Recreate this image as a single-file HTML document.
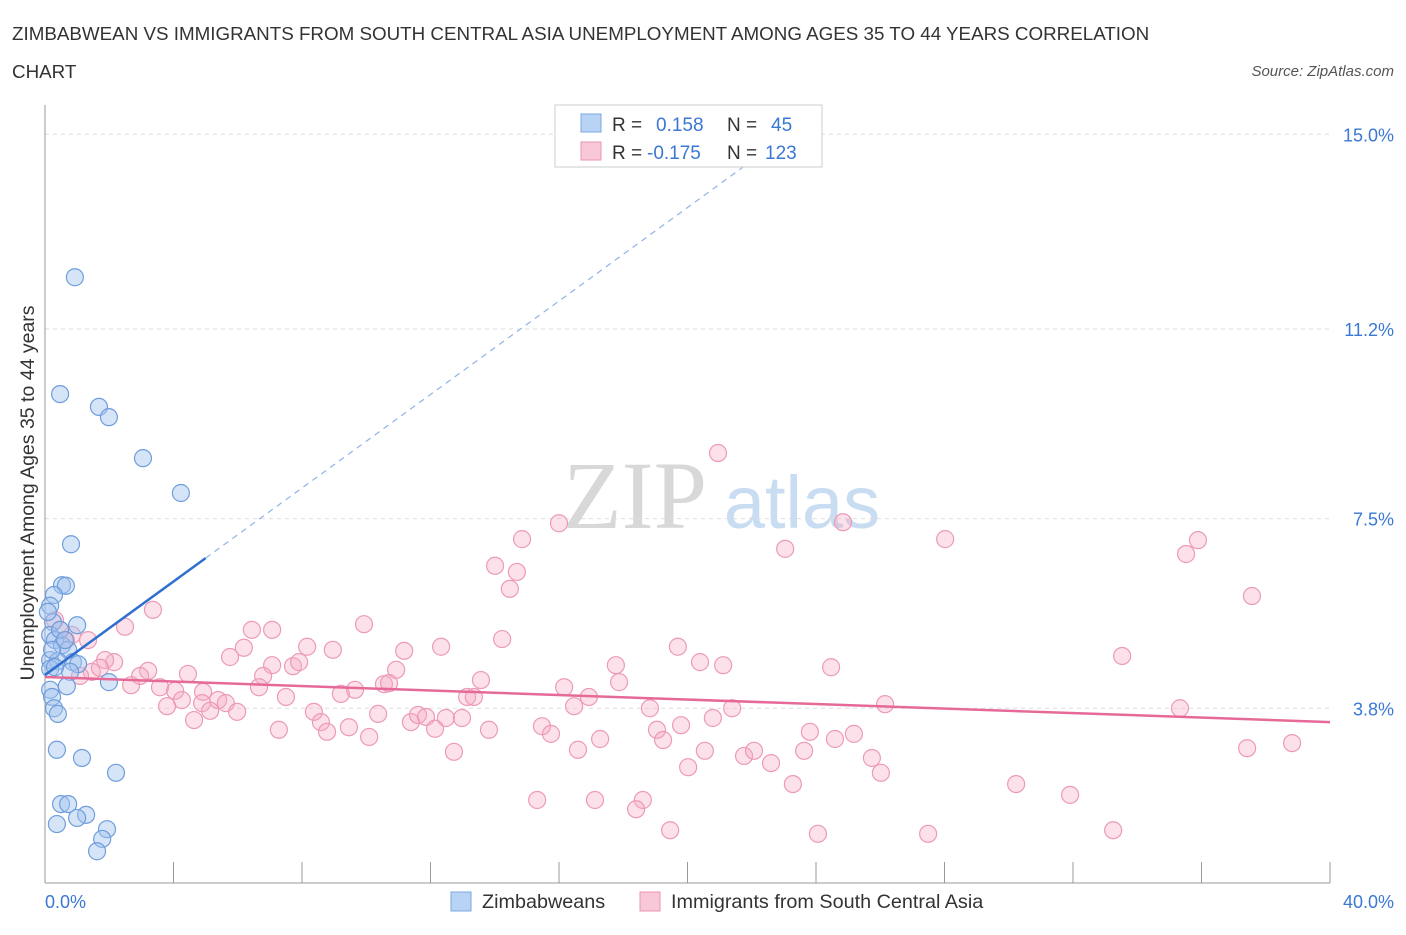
<!DOCTYPE html>
<html><head><meta charset="utf-8"><style>
body{margin:0;background:#fff;font-family:"Liberation Sans",sans-serif;}
</style></head><body>
<svg id="chart" width="1406" height="930" xmlns="http://www.w3.org/2000/svg" font-family="Liberation Sans, sans-serif">
<text x="12" y="40" font-size="18.8" fill="#333">ZIMBABWEAN VS IMMIGRANTS FROM SOUTH CENTRAL ASIA UNEMPLOYMENT AMONG AGES 35 TO 44 YEARS CORRELATION</text>
<text x="12" y="78" font-size="18.8" fill="#333">CHART</text>
<text x="1394" y="76" font-size="15" fill="#555" font-style="italic" text-anchor="end">Source: ZipAtlas.com</text>
<g>
<text x="635" y="528" font-size="96" fill="#d8d8d8" font-family="Liberation Serif, serif" text-anchor="middle">ZIP</text>
<text x="802" y="528" font-size="74" fill="#c8dcf2" text-anchor="middle">atlas</text>
</g>
<g id="grid"></g>
<g id="axes"></g>
<g id="pts"></g>
<g id="lines"></g>
<text transform="translate(34,493) rotate(-90)" font-size="19.5" fill="#333" text-anchor="middle">Unemployment Among Ages 35 to 44 years</text>
<text x="45" y="908" font-size="18" fill="#3a78d4">0.0%</text>
<text x="1394" y="908" font-size="18" fill="#3a78d4" text-anchor="end">40.0%</text>
<g>
<rect x="555" y="105" width="267" height="62" fill="#fff" stroke="#ccc"/>
<rect x="581" y="114" width="20" height="18" fill="#b9d3f5" stroke="#7ba7e0"/>
<rect x="581" y="142" width="20" height="18" fill="#f9c8d8" stroke="#e995b4"/>
<text x="612" y="131" font-size="19" fill="#333">R = <tspan fill="#3a78d4" x="656">0.158</tspan><tspan x="727" fill="#333">N = </tspan><tspan x="771" fill="#3a78d4">45</tspan></text>
<text x="612" y="159" font-size="19" fill="#333">R = <tspan fill="#3a78d4" x="647">-0.175</tspan><tspan x="727" fill="#333">N = </tspan><tspan x="765" fill="#3a78d4">123</tspan></text>
</g>
<g>
<rect x="451" y="892" width="20" height="19" fill="#b9d3f5" stroke="#7ba7e0"/>
<text x="482" y="908" font-size="19.8" fill="#333">Zimbabweans</text>
<rect x="640" y="892" width="20" height="19" fill="#f9c8d8" stroke="#e995b4"/>
<text x="671" y="908" font-size="19.8" fill="#333">Immigrants from South Central Asia</text>
</g>
</svg>
<script>
const yTicks=[3.8,7.5,11.2,15.0];
const yTickLabels=["3.8%","7.5%","11.2%","15.0%"];
const xTicks=[0,4,8,12,16,20,24,28,32,36,40];
const blueX=[0.93,0.47,1.68,1.99,3.05,4.23,0.81,0.53,0.65,0.28,0.16,0.25,1.0,0.16,0.31,0.53,0.72,0.16,0.4,0.87,1.03,0.16,0.78,1.99,0.68,0.16,0.22,0.28,0.4,0.37,1.15,2.21,0.5,0.72,1.28,1.0,0.37,1.93,1.78,1.62,0.22,0.31,0.47,0.62,0.09];
const blueY=[12.21,9.93,9.68,9.48,8.68,8.0,7.0,6.2,6.19,6.01,5.8,5.48,5.42,5.23,5.13,5.03,4.94,4.74,4.72,4.7,4.66,4.57,4.51,4.31,4.23,4.16,4.02,3.8,3.69,2.99,2.83,2.54,1.93,1.93,1.72,1.66,1.54,1.44,1.25,1.01,4.94,4.6,5.33,5.13,5.68];
const pinkX=[20.95,16.0,24.84,14.85,28.02,23.04,35.89,35.52,14.01,14.69,14.47,37.57,3.36,2.49,9.93,7.07,6.44,14.23,6.19,8.16,8.96,11.18,12.33,19.7,33.53,20.39,21.11,17.77,24.47,5.76,7.07,7.72,7.91,10.93,4.45,3.21,2.15,1.87,1.46,1.09,1.71,1.34,0.84,0.31,0.47,0.65,6.79,2.96,2.68,3.58,4.05,4.92,5.39,4.89,5.63,4.26,3.8,7.5,6.66,9.21,9.65,10.55,10.71,13.14,13.35,13.57,16.16,16.93,17.87,16.47,18.83,21.39,26.15,35.33,4.64,5.14,5.98,8.37,8.59,10.37,11.39,11.61,11.86,12.48,12.98,7.28,8.78,9.46,10.09,12.14,13.82,15.47,15.75,17.28,19.05,19.24,19.8,20.79,23.81,25.18,24.59,12.73,16.59,20.54,21.76,22.07,23.63,25.74,20.02,22.6,26.02,23.28,30.23,31.91,15.32,17.12,18.61,18.4,19.46,24.06,27.49,33.25,37.42,38.82];
const pinkY=[8.78,7.41,7.43,7.1,7.1,6.91,7.08,6.81,6.58,6.46,6.13,5.99,5.72,5.39,5.44,5.33,5.33,5.15,4.98,5.0,4.94,4.92,5.0,5.0,4.82,4.7,4.64,4.64,4.6,4.8,4.64,4.62,4.7,4.55,4.47,4.53,4.7,4.74,4.51,4.43,4.59,5.13,5.23,5.52,5.33,5.13,4.43,4.43,4.25,4.21,4.14,4.12,3.96,3.9,3.9,3.96,3.84,4.02,4.21,4.08,4.16,4.27,4.29,4.02,4.02,4.35,4.21,4.02,4.31,3.84,3.8,3.8,3.88,3.8,3.57,3.75,3.73,3.73,3.53,3.69,3.53,3.67,3.63,3.61,3.61,3.38,3.34,3.43,3.24,3.4,3.38,3.45,3.3,3.2,3.38,3.18,3.47,3.61,3.34,3.3,3.2,2.95,2.99,2.97,2.87,2.97,2.97,2.83,2.65,2.73,2.54,2.32,2.32,2.11,2.01,2.01,2.01,1.83,1.42,1.35,1.35,1.42,3.02,3.12];
const blueTrend=[4.45,0.456];
const pinkTrend=[4.41,-0.022];
const NS="http://www.w3.org/2000/svg";
function sx(v){return 45+v*32.125;}
function sy(v){return 903-v*51.25;}
function mk(tag,attrs,parent){const e=document.createElementNS(NS,tag);for(const k in attrs)e.setAttribute(k,attrs[k]);document.getElementById(parent).appendChild(e);return e;}
yTicks.forEach((t,i)=>{
 const g=mk('line',{x1:45,x2:1330,y1:sy(t),y2:sy(t),stroke:'#ddd','stroke-dasharray':'4,4'},'grid');
 
 
 const l=mk('text',{x:1394,y:sy(t)+7,'font-size':18,fill:'#3a78d4','text-anchor':'end'},'axes');
 l.textContent=yTickLabels[i];
 
 
});
const ya=mk('line',{x1:45,x2:45,y1:105,y2:883,stroke:'#999'},'axes');


const xa=mk('line',{x1:45,x2:1330,y1:883,y2:883,stroke:'#999'},'axes');


xTicks.forEach(t=>{
 const k=mk('line',{x1:sx(t),x2:sx(t),y1:862,y2:883,stroke:'#999'},'axes');
 
 
});
pinkX.forEach((x,i)=>{
 const c=mk('circle',{cx:sx(x),cy:sy(pinkY[i]),r:8.5,fill:'rgba(246,170,196,0.35)',stroke:'#ec9ab8','stroke-width':1.2},'pts');
 
 
});
blueX.forEach((x,i)=>{
 const c=mk('circle',{cx:sx(x),cy:sy(blueY[i]),r:8.5,fill:'rgba(164,196,240,0.45)',stroke:'#6f9edb','stroke-width':1.2},'pts');
 
 
});
const bl=mk('line',{x1:sx(0),y1:sy(blueTrend[0]),x2:sx(5),y2:sy(blueTrend[0]+5*blueTrend[1]),stroke:'#2f6fd0','stroke-width':2.5},'lines');


const bd=mk('line',{x1:sx(5),y1:sy(blueTrend[0]+5*blueTrend[1]),x2:sx(23.8),y2:sy(blueTrend[0]+23.8*blueTrend[1]),stroke:'#8fb3e6','stroke-width':1.2,'stroke-dasharray':'6,5'},'lines');


const pl=mk('line',{x1:sx(0),y1:sy(pinkTrend[0]),x2:sx(40),y2:sy(pinkTrend[0]+40*pinkTrend[1]),stroke:'#e66a98','stroke-width':2.5},'lines');


</script>
</body></html>
